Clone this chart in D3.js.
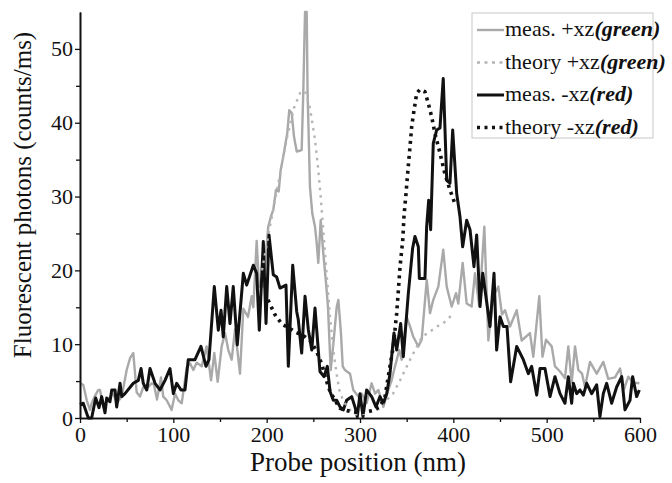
<!DOCTYPE html>
<html>
<head>
<meta charset="utf-8">
<script src="https://cdn.jsdelivr.net/npm/d3@7"></script>
</head>
<body style="margin:0">
<script>
// [probe position nm, photons counts/ms]
const measGreen = [[0,4.7],[3.5,4.5],[7.2,2.4],[10.7,1.1],[12.5,2],[16.1,3],[19.6,3.8],[21.4,3.8],[25,1.5],[30,2.5],[35.7,3.3],[39.3,2],[44.7,2.9],[50,6.5],[53.6,8.1],[57.1,8.8],[60.7,3.5],[64.3,2.9],[67.8,4.2],[71.8,4],[76.8,4.7],[79.3,4.5],[82.5,2.5],[86.8,5.5],[89.2,2.9],[92.9,2.4],[98.2,1.1],[101.8,3.3],[105.3,2.4],[109,2],[114.3,6.8],[117.9,7.4],[121.4,6.5],[125,7.5],[130.4,7],[135.7,9.7],[140.4,5.1],[143.9,8.8],[147.5,4.9],[151.8,9.7],[155.4,11.5],[158.9,9.2],[162.5,7.9],[166.1,12],[171.4,6],[175,14.8],[180,13.7],[183.9,16.5],[185.7,15],[189.3,24],[191.8,17.8],[196.4,17.8],[199,22],[201.7,25.9],[204.6,27.3],[207.1,28.2],[210,30.9],[212.9,30.7],[215,33.6],[217.2,35],[222.1,38.6],[224.2,41.7],[226.8,41.3],[229.3,38.1],[232.2,36.1],[237.5,36.3],[239.2,44],[241.1,55],[242.9,55],[243.8,44.4],[246.4,31.3],[248.9,27.7],[251.8,25.9],[253.6,23.7],[255.3,21],[257.9,26.8],[260.7,22.3],[263.6,18.3],[265.7,15],[268.6,6.5],[271.4,10],[275,15],[276.8,16],[279.6,11.5],[281.5,7],[283.9,6.5],[289.3,6],[292.8,3.8],[298.2,2.9],[301.8,3.3],[307.1,2],[312.5,4.7],[316.1,3.3],[319.6,3.8],[325,1.5],[330.3,3.8],[333.9,5.1],[337.5,7],[342.1,9.2],[344.7,7.9],[347.1,10.6],[350,13.7],[353.6,12.4],[357.1,11],[362.5,9.7],[366.1,10.6],[371.5,18.7],[375,14.2],[378.5,16],[383.9,17.8],[389.2,22.8],[392.9,17.8],[398.2,15.1],[402.9,16.9],[405.3,15.5],[410,21],[414.3,15.5],[419.6,15.1],[423.2,19.6],[427.8,15.1],[433.2,25.9],[437.5,10.5],[442.8,16.5],[448.2,17.8],[452.1,14],[455.4,14.6],[460.7,12.4],[467.9,14.6],[473.2,10.5],[482.1,11.5],[485.7,8.3],[492.1,16.5],[495.5,8.3],[499.3,10.6],[505.4,9.7],[508.9,7],[514.3,6.3],[519.6,5.4],[523.2,9.7],[526.8,4.8],[530.4,9.7],[533.9,6.5],[537.9,6],[541.1,4.2],[546.4,7.6],[553.6,6],[560.7,7.6],[566,5.3],[573.2,5.5],[578.6,6.7],[582.9,3.9],[587.5,5.6],[592.5,4.8],[599.3,4.7]];

const theoryGreen = [[195,20],[203.6,26],[214.3,33],[221.8,38],[229.3,42],[235.7,44],[241.1,44.3],[246.4,42],[251.8,37.7],[255,34],[258.2,29.5],[263.6,20.5],[267.9,13.7],[272.1,8.5],[275.4,5.6],[278.6,3.3],[283.9,2],[289.3,1.1],[295.7,0.5],[302.1,0.5],[310.7,0.8],[318.2,1.1],[326.8,2.2],[335.4,3.3],[342.9,5.1],[348.2,6.5],[353.6,7.9],[361.1,9.7],[366.4,11],[375,11.7],[382.5,12.4],[388.9,12.8],[396.4,13.7],[400.7,14.2]];

const measRed = [[0,1.8],[3.5,2],[8.9,0],[12.5,0],[16.8,2.7],[20.4,1.4],[23.2,2.9],[26.8,0.7],[28.6,2.7],[32.1,2.2],[34,3.8],[37.5,3.8],[39.3,1.5],[42.9,4.7],[44.7,2.9],[48.2,3.3],[57.1,4.7],[62.5,5.1],[65.4,6.7],[67.8,4.7],[71.5,3.8],[75,6.7],[80.4,4.7],[85.7,3.8],[91.1,5.1],[96.4,6.7],[100,3.3],[103.6,4.7],[108.2,3.8],[112.5,3.8],[116,7.9],[123.2,7.9],[129.6,9.7],[135,7],[138.2,7.9],[143.9,17.8],[148.2,11.9],[151.1,14.6],[153.5,11],[157.2,17.8],[160.7,12.8],[164.2,17.8],[168.5,9.9],[175,19.6],[178.6,18],[185.7,20.7],[189.3,19.6],[192.1,11.9],[196.4,23.9],[199.3,12.8],[202.5,24.8],[207.1,19.4],[210.7,19.1],[214.3,17.6],[220.7,18],[223.2,7],[227.9,20.7],[232.2,14.4],[233.9,13.3],[237.5,8.8],[241.1,16.5],[244.6,12],[248.3,9.2],[251.8,14.9],[257.1,6.3],[261.4,5.6],[265,7],[267.9,3.6],[271.4,2.4],[275,2.4],[278.6,1.5],[282.1,1.1],[285.7,2.4],[291.1,2.9],[294.6,1.5],[297.1,0.2],[300,3.3],[303.2,0.2],[307.1,3.8],[312.5,2.9],[317.1,1.5],[321.4,2.9],[325,2],[328.6,3.3],[332.1,6],[336.4,11.5],[339.3,9.2],[343.6,12.8],[346.4,8.3],[351.8,16.9],[356.4,23],[358.9,24.6],[362.5,23.2],[363.6,18.9],[369.6,18.9],[371.4,25.9],[373.6,29.5],[375.7,25.5],[378.5,37.2],[382.1,39],[385.7,39.3],[389.2,46],[392.9,32.2],[396.4,31.8],[399.3,39],[403.6,30.4],[407.1,27.3],[410,23.2],[414.3,26.8],[417.9,25.5],[422.1,20.5],[425,24.8],[428.6,15.1],[431.5,19.6],[439.3,12.4],[443.6,19.6],[446.4,9.2],[450,13.7],[453.6,12.4],[457.5,12.4],[461.4,4.9],[467.9,9.7],[475,7.9],[480.4,6],[483.9,7],[489.3,3.1],[492.9,6.7],[498.2,6.7],[503.6,2.9],[508.9,5.6],[514.3,3.3],[519.6,2],[523.2,5.6],[526.8,2],[528.6,4.7],[532.1,3.3],[535.7,3.8],[539.3,3.1],[542.9,4.7],[548.2,3.3],[553.6,4.5],[557.1,0.2],[560.7,3.3],[564.3,4.7],[569.6,2],[575,4.2],[580.4,5.6],[583.9,1.1],[589.3,2.4],[592.1,5.6],[596.4,2.9],[599.3,3.8]];

const theoryRed = [[201.4,16],[208.9,14],[216.4,12.7],[223.9,12.2],[231.4,11.6],[238.9,11.2],[246.4,10.5],[252.9,9.2],[259.3,7.2],[263.6,5.2],[267.9,3.6],[273.2,2.4],[278.6,1.3],[286.1,1],[294.6,0.8],[305.4,0.8],[312.9,1],[321.4,1.5],[326.8,2.9],[332.1,7],[335.7,9.7],[339.3,14.2],[341.1,17.3],[342.9,20.5],[345.8,24.1],[347.1,27.3],[349.3,30.4],[351.1,33.2],[353.6,36.8],[355.4,39.5],[357.9,41.7],[360.8,44],[364.3,44.5],[369.6,44.2],[373.2,42.6],[376.8,40.8],[380.4,38.5],[385.7,35.9],[391.1,33],[396.4,30.9],[401.8,29]];

const xTicks = [0, 100, 200, 300, 400, 500, 600];
const yTicks = [0, 10, 20, 30, 40, 50];

const series = [
  {name: "meas. +xz", tag: "(green)", data: measGreen, color: "#a9a9a9", width: 2.4, dash: null},
  {name: "theory +xz", tag: "(green)", data: theoryGreen, color: "#b4b4b4", width: 2.4, dash: "2.5,5"},
  {name: "meas. -xz", tag: "(red)", data: measRed, color: "#111", width: 3, dash: null},
  {name: "theory -xz", tag: "(red)", data: theoryRed, color: "#111", width: 3.6, dash: "3,4.5"}
];

const FONT = "'Liberation Serif'";
const W = 672, H = 483;
const margin = {top: 12, right: 32, bottom: 65, left: 80};
const width = W - margin.left - margin.right;
const height = H - margin.top - margin.bottom;

const svg = d3.select("body").append("svg")
    .attr("width", W)
    .attr("height", H);

const x = d3.scaleLinear().domain([0, 600]).range([margin.left, margin.left + width]);
const y = d3.scaleLinear().domain([0, 55]).range([margin.top + height, margin.top]);

// lines (gray behind black)
const line = d3.line().x(d => x(d[0])).y(d => y(d[1]));
[0, 2, 1, 3].forEach(i => {
  const s = series[i];
  svg.append("path")
      .datum(s.data)
      .attr("fill", "none")
      .attr("stroke", s.color)
      .attr("stroke-width", s.width)
      .attr("stroke-linejoin", "round")
      .attr("stroke-dasharray", s.dash)
      .attr("d", line);
});

// axes
const xAxis = d3.axisBottom(x).tickValues(xTicks).tickSize(5).tickSizeOuter(0).tickPadding(3);
const xMinor = d3.axisBottom(x).tickValues(d3.range(50, 600, 100)).tickSize(4).tickFormat("").tickSizeOuter(0);
const yAxis = d3.axisLeft(y).tickValues(yTicks).tickSize(5).tickSizeOuter(0).tickPadding(2);
const yMinor = d3.axisLeft(y).tickValues(d3.range(5, 55, 10)).tickSize(4).tickFormat("").tickSizeOuter(0);

const gx = svg.append("g").attr("transform", `translate(0,${margin.top + height})`).call(xAxis);
svg.append("g").attr("transform", `translate(0,${margin.top + height})`).call(xMinor);
const gy = svg.append("g").attr("transform", `translate(${margin.left},0)`).call(yAxis);
svg.append("g").attr("transform", `translate(${margin.left},0)`).call(yMinor);

svg.selectAll(".domain").attr("stroke", "#111").attr("stroke-width", 1.6);
svg.selectAll(".tick line").attr("stroke", "#111").attr("stroke-width", 1.3);
[gx, gy].forEach(g => {
  g.attr("font-family", null);
  g.selectAll("text").attr("font-family", FONT).attr("font-size", 22).attr("fill", "#111");
});

svg.append("text")
    .attr("x", margin.left + width / 2 - 2)
    .attr("y", 471)
    .attr("text-anchor", "middle")
    .attr("font-family", FONT)
    .attr("font-size", 27)
    .attr("fill", "#111")
    .text("Probe position (nm)");

svg.append("text")
    .attr("transform", `translate(31,${margin.top + 183}) rotate(-90)`)
    .attr("text-anchor", "middle")
    .attr("font-family", FONT)
    .attr("font-size", 25)
    .attr("fill", "#111")
    .text("Fluorescent photons (counts/ms)");

// legend
const legend = svg.append("g").attr("transform", "translate(472,13)");
legend.append("rect")
    .attr("width", 181).attr("height", 125)
    .attr("fill", "#fff")
    .attr("stroke", "#c8c8c8").attr("stroke-width", 1);

series.forEach((s, i) => {
  const ry = 17 + i * 32.5;
  legend.append("line")
      .attr("x1", 5).attr("x2", 32).attr("y1", ry).attr("y2", ry)
      .attr("stroke", s.color)
      .attr("stroke-width", s.width)
      .attr("stroke-dasharray", s.dash ? "3,4.5" : null);
  const t = legend.append("text")
      .attr("x", 33).attr("y", ry + 6)
      .attr("font-family", FONT)
      .attr("font-size", 22)
      .attr("fill", "#111");
  t.append("tspan").text(s.name);
  t.append("tspan").attr("font-style", "italic").attr("font-weight", "bold").text(s.tag);
});
</script>
</body>
</html>
